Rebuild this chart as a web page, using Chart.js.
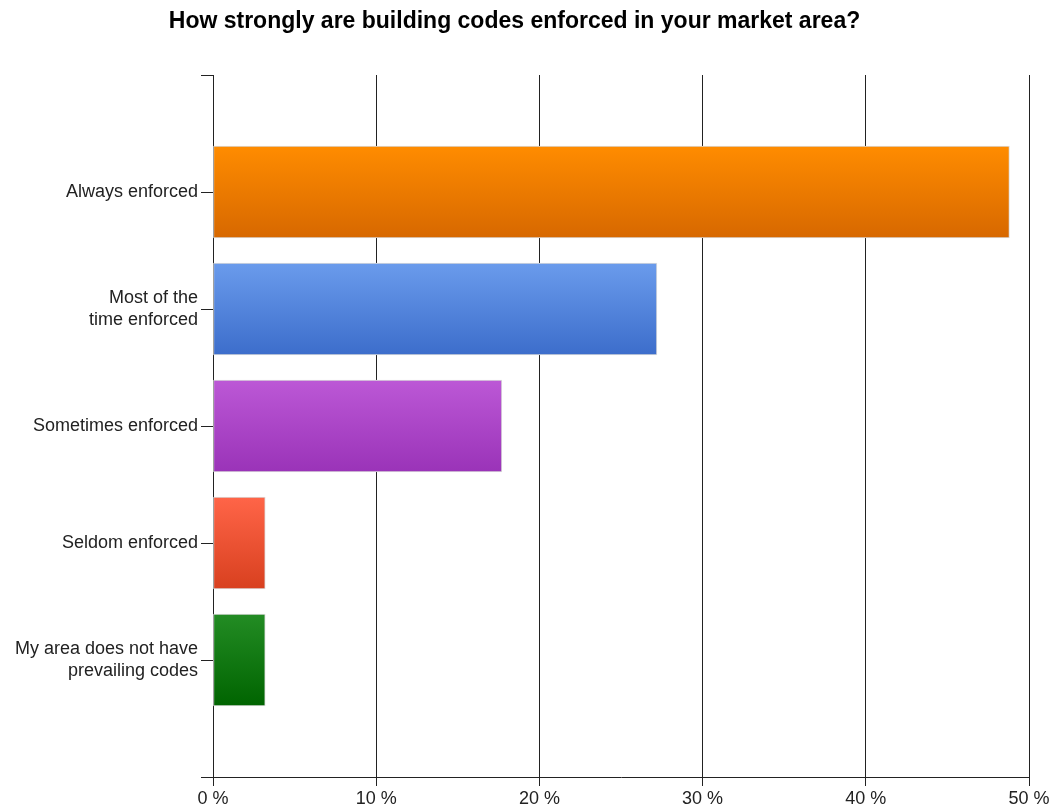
<!DOCTYPE html>
<html>
<head>
<meta charset="utf-8">
<script src="https://cdn.jsdelivr.net/npm/chart.js@4"></script>
<style>
  body { margin: 0; background: #fff; }
  #wrap { width: 1054px; height: 811px; }
</style>
</head>
<body>
<div id="wrap"><canvas id="enforcement"></canvas></div>
<script>
const categories = [
  "Always enforced",
  ["Most of the", "time enforced"],
  "Sometimes enforced",
  "Seldom enforced",
  ["My area does not have", "prevailing codes"],
];
const percentages = [48.8, 27.2, 17.7, 3.2, 3.2];
const xTicks = [0, 10, 20, 30, 40, 50];

// top / bottom colour of each bar's vertical gradient
const barTop = ["#ff8c00", "#6a9bec", "#bc58d6", "#ff6548", "#238c24"];
const barBottom = ["#d76800", "#3c6dcb", "#9a33b8", "#d8401f", "#006400"];

// empty slots above and below keep the bars centred in their bands
const labels = ["", ...categories, ""];
const values = [null, ...percentages, null];

const font = { family: "'Liberation Sans', Arial, sans-serif", size: 18 };

function barFill(ctx) {
  const i = ctx.dataIndex - 1;
  const chart = ctx.chart;
  const y = chart.scales.y;
  if (i < 0 || i >= percentages.length || !y || y.top === undefined) return barTop[0];
  const c = y.getPixelForValue(ctx.dataIndex);
  const g = chart.ctx.createLinearGradient(0, c - 46, 0, c + 46);
  g.addColorStop(0, barTop[i]);
  g.addColorStop(1, barBottom[i]);
  return g;
}

new Chart(document.getElementById("enforcement"), {
  type: "bar",
  data: {
    labels: labels,
    datasets: [
      {
        data: values,
        backgroundColor: barFill,
        borderColor: "#dadada",
        borderWidth: 1,
        borderSkipped: false,
        barThickness: 92,
      },
    ],
  },
  options: {
    indexAxis: "y",
    responsive: true,
    maintainAspectRatio: false,
    animation: false,
    layout: { padding: { left: 0, right: 25, top: 0, bottom: 0 } },
    plugins: {
      legend: { display: false },
      tooltip: { enabled: false },
      title: {
        display: true,
        text: "How strongly are building codes enforced in your market area?",
        color: "#000",
        font: { family: font.family, size: 23, weight: "bold" },
        padding: { top: 8, bottom: 39.4 },
      },
    },
    scales: {
      x: {
        min: 0,
        max: 50,
        afterBuildTicks: (axis) => {
          axis.ticks = xTicks.map((v) => ({ value: v }));
        },
        afterFit: (axis) => {
          axis.height = 34;
        },
        grid: {
          color: "#222",
          lineWidth: 1,
          tickLength: 9,
          drawTicks: true,
        },
        border: { display: true, color: "#222", width: 1 },
        ticks: {
          color: "#222",
          font: font,
          padding: 2,
          maxRotation: 0,
          callback: (v) => v + " %",
        },
      },
      y: {
        z: 1,
        offset: false,
        afterFit: (axis) => {
          axis.width = 213;
        },
        grid: {
          offset: false,
          drawOnChartArea: false,
          color: "#222",
          tickLength: 12,
        },
        border: { display: true, color: "#222", width: 1 },
        ticks: {
          color: "#222",
          font: font,
          padding: 3,
          autoSkip: false,
        },
      },
    },
  },
});
</script>
</body>
</html>
